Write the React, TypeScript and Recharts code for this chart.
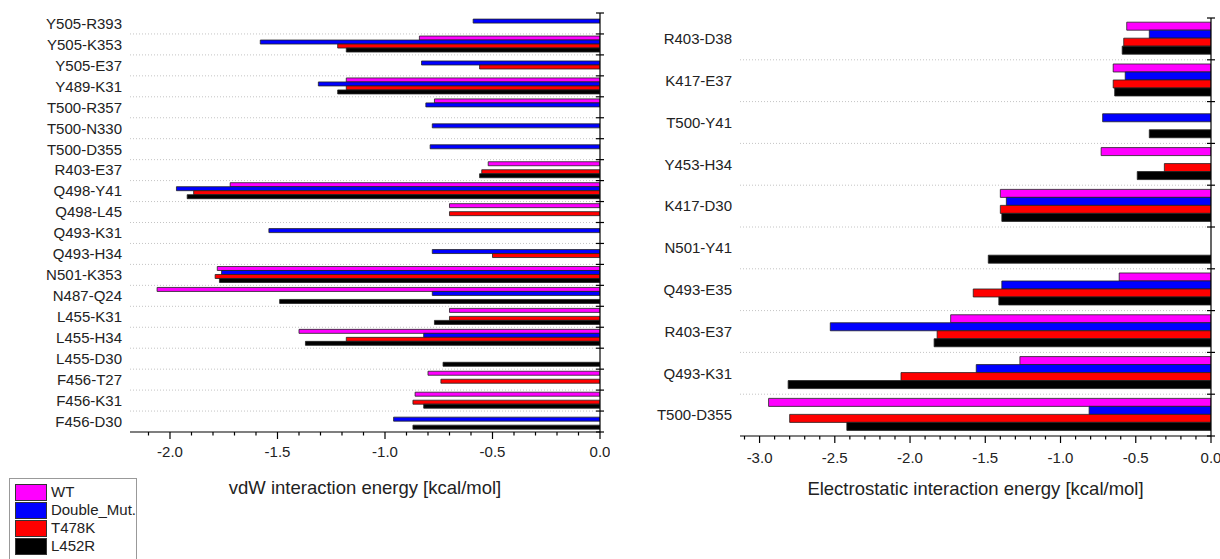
import { BarChart, Bar, XAxis, YAxis } from 'recharts';

const vdwPairs = [
  'Y505-R393', 'Y505-K353', 'Y505-E37', 'Y489-K31', 'T500-R357', 'T500-N330', 'T500-D355',
  'R403-E37', 'Q498-Y41', 'Q498-L45', 'Q493-K31', 'Q493-H34', 'N501-K353', 'N487-Q24',
  'L455-K31', 'L455-H34', 'L455-D30', 'F456-T27', 'F456-K31', 'F456-D30',
];
const vdwWT = [null, -0.84, null, -1.18, -0.77, null, null, -0.52, -1.72, -0.7, null, null, -1.78, -2.06, -0.7, -1.4, null, -0.8, -0.86, null];
const vdwDouble = [-0.59, -1.58, -0.83, -1.31, -0.81, -0.78, -0.79, null, -1.97, null, -1.54, -0.78, -1.76, -0.78, null, -0.82, null, null, null, -0.96];
const vdwT478K = [null, -1.22, -0.56, -1.18, null, null, null, -0.55, -1.89, -0.7, null, -0.5, -1.79, null, -0.7, -1.18, null, -0.74, -0.87, null];
const vdwL452R = [null, -1.18, null, -1.22, null, null, null, -0.56, -1.92, null, null, null, -1.77, -1.49, -0.77, -1.37, -0.73, null, -0.82, -0.87];

const elecPairs = [
  'R403-D38', 'K417-E37', 'T500-Y41', 'Y453-H34', 'K417-D30',
  'N501-Y41', 'Q493-E35', 'R403-E37', 'Q493-K31', 'T500-D355',
];
const elecWT = [-0.56, -0.65, null, -0.73, -1.4, null, -0.61, -1.73, -1.27, -2.94];
const elecDouble = [-0.41, -0.57, -0.72, null, -1.36, null, -1.39, -2.53, -1.56, -0.81];
const elecT478K = [-0.58, -0.65, null, -0.31, -1.4, null, -1.58, -1.82, -2.06, -2.8];
const elecL452R = [-0.59, -0.64, -0.41, -0.49, -1.39, -1.48, -1.41, -1.84, -2.81, -2.42];

const seriesNames = ['WT', 'Double_Mut.', 'T478K', 'L452R'];
const seriesKeys = ['wt', 'dm', 't478k', 'l452r'];
const seriesColors = ['#ff00ff', '#0000ff', '#ff0000', '#000000'];

const vdwMajorTicks = [-2, -1.5, -1, -0.5, 0];
const vdwAllTicks = [-2.1, -2, -1.9, -1.8, -1.7, -1.6, -1.5, -1.4, -1.3, -1.2, -1.1, -1, -0.9, -0.8, -0.7, -0.6, -0.5, -0.4, -0.3, -0.2, -0.1, 0];
const elecMajorTicks = [-3, -2.5, -2, -1.5, -1, -0.5, 0];
const elecAllTicks = [-3.1, -3, -2.9, -2.8, -2.7, -2.6, -2.5, -2.4, -2.3, -2.2, -2.1, -2, -1.9, -1.8, -1.7, -1.6, -1.5, -1.4, -1.3, -1.2, -1.1, -1, -0.9, -0.8, -0.7, -0.6, -0.5, -0.4, -0.3, -0.2, -0.1, 0];

const FONT = '"Liberation Sans", Arial, sans-serif';
const CHART_W = 610;
const CHART_H = 559;
const LABEL_W = 130;

function buildRows(pairs: string[], wt: any[], dm: any[], t: any[], l: any[]) {
  return pairs.map((pair, i) => ({ pair, wt: wt[i], dm: dm[i], t478k: t[i], l452r: l[i] }));
}

const vdwData = buildRows(vdwPairs, vdwWT, vdwDouble, vdwT478K, vdwL452R);
const elecData = buildRows(elecPairs, elecWT, elecDouble, elecT478K, elecL452R);

function makeXTick(majors: number[], baseline: number) {
  return (props: any) => {
    const { x, y, payload } = props;
    const isMajor = majors.some((m) => Math.abs(m - payload.value) < 1e-6);
    return (
      <g>
        <line x1={x} x2={x} y1={y} y2={y + (isMajor ? 7 : 3.5)} stroke="#000" strokeWidth={1.2} />
        {isMajor && (
          <text x={x} y={y + baseline} textAnchor="middle" fontSize={15} fontFamily={FONT} fill="#222">
            {payload.value.toFixed(1)}
          </text>
        )}
      </g>
    );
  };
}

// right-hand category axis: crossing ticks and dotted separators at band edges
function makeEdgeTick(plotWidth: number) {
  return (props: any) => {
    const { x, y, payload, index, visibleTicksCount } = props;
    const half = payload.offset ?? 0;
    const top = y - half;
    const last = index === visibleTicksCount - 1;
    return (
      <g>
        {index > 0 && (
          <line x1={x - plotWidth} x2={x - 4} y1={top} y2={top} stroke="#c4c4c4" strokeWidth={1} strokeDasharray="1 2" />
        )}
        <line x1={x - 4} x2={x + 4} y1={top} y2={top} stroke="#000" strokeWidth={1.2} />
        {last && <line x1={x - 4} x2={x + 4} y1={y + half} y2={y + half} stroke="#000" strokeWidth={1.2} />}
      </g>
    );
  };
}

interface PanelProps {
  data: any[];
  domainMin: number;
  allTicks: number[];
  majorTicks: number[];
  title: string;
  top: number;
  axisHeight: number;
  rightWidth: number;
  baseline: number;
  titleOffset: number;
}

function Panel(p: PanelProps) {
  const plotWidth = CHART_W - LABEL_W - p.rightWidth;
  return (
    <BarChart
      width={CHART_W}
      height={CHART_H}
      data={p.data}
      layout="vertical"
      margin={{ top: p.top, right: 0, bottom: 0, left: 0 }}
      barCategoryGap="10%"
      barGap={0}
      style={{ overflow: 'visible' }}
    >
      <XAxis
        type="number"
        dataKey="wt"
        domain={[p.domainMin, 0]}
        allowDataOverflow
        ticks={p.allTicks}
        interval={0}
        tickSize={0}
        tickMargin={0}
        tickLine={false}
        tick={makeXTick(p.majorTicks, p.baseline)}
        axisLine={{ stroke: '#000', strokeWidth: 1.2 }}
        height={p.axisHeight}
        label={{ value: p.title, position: 'insideTop', offset: p.titleOffset, fontSize: 18.5, fontFamily: FONT, fill: '#222' }}
      />
      <YAxis
        type="category"
        dataKey="pair"
        width={LABEL_W}
        axisLine={false}
        tickLine={false}
        interval={0}
        tick={{ fontSize: 15, fontFamily: FONT, fill: '#222' }}
      />
      <YAxis
        yAxisId="edge"
        type="category"
        dataKey="pair"
        orientation="right"
        width={p.rightWidth}
        interval={0}
        tickSize={0}
        tickMargin={0}
        tickLine={false}
        tick={makeEdgeTick(plotWidth)}
        axisLine={{ stroke: '#000', strokeWidth: 1.2 }}
      />
      {seriesKeys.map((k, i) => (
        <Bar
          key={k}
          dataKey={k}
          name={seriesNames[i]}
          fill={seriesColors[i]}
          stroke="#222"
          strokeWidth={0.8}
          isAnimationActive={false}
        />
      ))}
    </BarChart>
  );
}

function LegendBox() {
  return (
    <div
      style={{
        position: 'absolute',
        left: 9,
        top: 478,
        width: 128,
        height: 90,
        border: '1px solid #999',
        boxSizing: 'border-box',
        background: '#fff',
        fontFamily: FONT,
        fontSize: 15,
        color: '#222',
        paddingTop: 4,
      }}
    >
      {seriesNames.map((name, i) => (
        <div key={name} style={{ display: 'flex', alignItems: 'center', height: 18 }}>
          <div
            style={{
              width: 32,
              height: 17,
              marginLeft: 5,
              background: seriesColors[i],
              border: '1px solid #333',
              boxSizing: 'border-box',
            }}
          />
          <span style={{ marginLeft: 4, lineHeight: '18px' }}>{name}</span>
        </div>
      ))}
    </div>
  );
}

export default function App() {
  return (
    <div style={{ position: 'absolute', left: 0, top: 0, width: 1220, height: 559, overflow: 'hidden', background: '#fff' }}>
      <div style={{ position: 'absolute', left: 0, top: 0 }}>
        <Panel
          data={vdwData}
          domainMin={-2.186}
          allTicks={vdwAllTicks}
          majorTicks={vdwMajorTicks}
          title="vdW interaction energy [kcal/mol]"
          top={13}
          axisHeight={559 - 432}
          rightWidth={10}
          baseline={25}
          titleOffset={49}
        />
      </div>
      <div style={{ position: 'absolute', left: 610, top: 0 }}>
        <Panel
          data={elecData}
          domainMin={-3.13}
          allTicks={elecAllTicks}
          majorTicks={elecMajorTicks}
          title="Electrostatic interaction energy [kcal/mol]"
          top={18}
          axisHeight={559 - 436}
          rightWidth={9}
          baseline={26.5}
          titleOffset={46}
        />
      </div>
      <LegendBox />
    </div>
  );
}
